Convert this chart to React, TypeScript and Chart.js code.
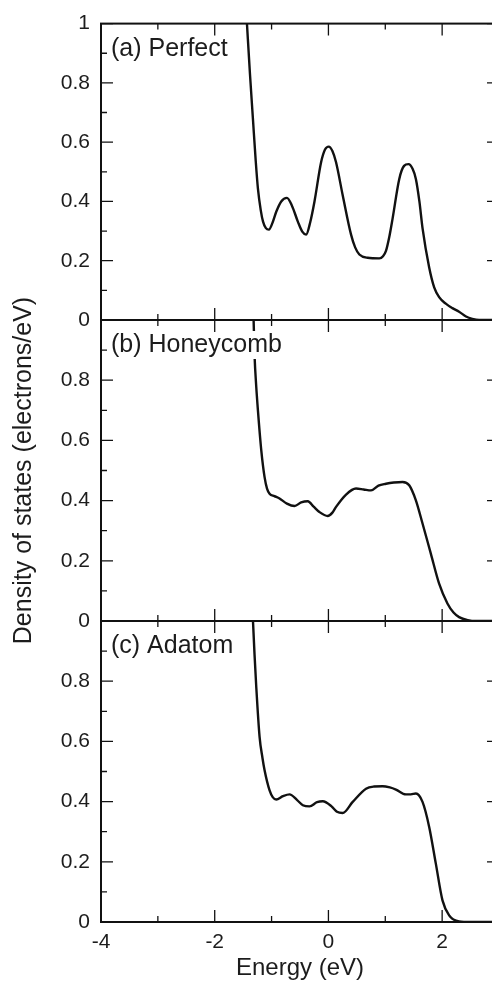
import React, { useEffect, useRef } from 'react';
import { Chart, registerables } from 'chart.js';

Chart.register(...registerables);

// ---------- data ----------
const perfectEnergy = [-1.47, -1.433, -1.38, -1.327, -1.28, -1.24, -1.19, -1.15, -1.1, -1.047, -0.98, -0.918, -0.83, -0.73, -0.64, -0.538, -0.46, -0.392, -0.32, -0.246, -0.129, -0.06, 0.006, 0.07, 0.134, 0.251, 0.398, 0.47, 0.544, 0.69, 0.895, 0.96, 1.012, 1.07, 1.129, 1.246, 1.33, 1.409, 1.48, 1.538, 1.6, 1.655, 1.772, 1.86, 1.947, 2.064, 2.18, 2.298, 2.42, 2.53, 2.65, 3.0];
const perfectDos = [1.12, 1.0, 0.83, 0.676, 0.54, 0.443, 0.37, 0.332, 0.31, 0.305, 0.33, 0.365, 0.4, 0.412, 0.385, 0.332, 0.298, 0.288, 0.33, 0.399, 0.532, 0.575, 0.585, 0.57, 0.532, 0.421, 0.288, 0.245, 0.221, 0.21, 0.208, 0.215, 0.233, 0.28, 0.343, 0.476, 0.52, 0.526, 0.51, 0.476, 0.4, 0.31, 0.177, 0.11, 0.077, 0.055, 0.04, 0.028, 0.012, 0.004, 0.0, 0.0];

const honeycombEnergy = [-1.34, -1.316, -1.298, -1.27, -1.24, -1.181, -1.123, -1.08, -1.035, -0.95, -0.86, -0.73, -0.596, -0.48, -0.363, -0.26, -0.158, -0.012, 0.07, 0.134, 0.31, 0.485, 0.62, 0.749, 0.88, 1.012, 1.15, 1.304, 1.421, 1.538, 1.655, 1.801, 1.947, 2.093, 2.2, 2.298, 2.45, 2.6, 3.0];
const honeycombDos = [1.1, 1.0, 0.877, 0.78, 0.7, 0.567, 0.478, 0.44, 0.423, 0.415, 0.407, 0.39, 0.382, 0.394, 0.398, 0.38, 0.362, 0.349, 0.36, 0.379, 0.42, 0.44, 0.437, 0.434, 0.45, 0.456, 0.46, 0.462, 0.451, 0.401, 0.324, 0.224, 0.124, 0.058, 0.028, 0.013, 0.003, 0.0, 0.0];

const adatomEnergy = [-1.35, -1.327, -1.3, -1.269, -1.211, -1.16, -1.123, -1.035, -0.98, -0.918, -0.8, -0.684, -0.55, -0.45, -0.333, -0.2, -0.099, 0.05, 0.15, 0.251, 0.427, 0.661, 0.8, 0.953, 1.08, 1.187, 1.363, 1.45, 1.538, 1.655, 1.772, 1.889, 2.006, 2.123, 2.298, 2.5, 3.0];
const adatomDos = [1.1, 1.0, 0.89, 0.78, 0.615, 0.545, 0.504, 0.437, 0.415, 0.407, 0.418, 0.424, 0.405, 0.388, 0.384, 0.398, 0.401, 0.385, 0.366, 0.362, 0.399, 0.443, 0.45, 0.451, 0.447, 0.44, 0.424, 0.424, 0.427, 0.399, 0.316, 0.194, 0.072, 0.022, 0.002, 0.0, 0.0];

const panelLabels = ['(a) Perfect', '(b) Honeycomb', '(c) Adatom'];
const xMajorTicks = [-4, -2, 0, 2];
const xMinorTicks = [-3, -1, 1, 3];
const yTicksTop = [0, 0.2, 0.4, 0.6, 0.8, 1];
const yTicksLower = [0, 0.2, 0.4, 0.6, 0.8];
const yMajorTicks = [0, 0.2, 0.4, 0.6, 0.8, 1];
const yMinorTicks = [0.1, 0.3, 0.5, 0.7, 0.9];
const xMin = -4;
const xMax = 3;
const yMin = 0;
const yMax = 1;
const xTitle = 'Energy (eV)';
const yTitle = 'Density of states (electrons/eV)';

// ---------- layout / style ----------
const CW = 520;
const CH = 986;
const FONT = "'Liberation Sans', Arial, Helvetica, sans-serif";
const INK = '#111111';
const TEXT = '#1c1c1c';

const panels = [
  { energy: perfectEnergy, dos: perfectDos, label: panelLabels[0], top: 19, bottom: 320, yTicks: yTicksTop, showX: false, showYTitle: false },
  { energy: honeycombEnergy, dos: honeycombDos, label: panelLabels[1], top: 320, bottom: 621, yTicks: yTicksLower, showX: false, showYTitle: true },
  { energy: adatomEnergy, dos: adatomDos, label: panelLabels[2], top: 621, bottom: 922, yTicks: yTicksLower, showX: true, showYTitle: false },
];

const frameTicksPlugin = {
  id: 'frameTicks',
  afterDatasetsDraw(chart: any, _args: any, opts: any) {
    const { ctx, chartArea } = chart;
    const text: string = opts.label;
    if (!text) return;
    ctx.save();
    ctx.font = `25px ${FONT}`;
    ctx.textBaseline = 'alphabetic';
    ctx.textAlign = 'left';
    const x = chartArea.left + 10;
    const y = chartArea.top + 32;
    const m = ctx.measureText(text);
    ctx.fillStyle = '#ffffff';
    ctx.fillRect(x - 2, y - m.actualBoundingBoxAscent - 2, m.width + 4, m.actualBoundingBoxAscent + m.actualBoundingBoxDescent + 4);
    ctx.fillStyle = TEXT;
    ctx.fillText(text, x, y);
    ctx.restore();
  },
  afterDraw(chart: any) {
    const { ctx, chartArea } = chart;
    const { left, right, top, bottom } = chartArea;
    const xs = chart.scales.x;
    const ys = chart.scales.y;
    ctx.save();
    ctx.strokeStyle = INK;
    ctx.lineWidth = 1.3;
    ctx.beginPath();
    const vx = (vals: number[], len: number) => {
      for (const v of vals) {
        const p = xs.getPixelForValue(v);
        ctx.moveTo(p, bottom);
        ctx.lineTo(p, bottom - len);
        ctx.moveTo(p, top);
        ctx.lineTo(p, top + len);
      }
    };
    const hy = (vals: number[], len: number) => {
      for (const v of vals) {
        const p = ys.getPixelForValue(v);
        ctx.moveTo(left, p);
        ctx.lineTo(left + len, p);
        ctx.moveTo(right, p);
        ctx.lineTo(right - len, p);
      }
    };
    vx(xMajorTicks, 12);
    vx(xMinorTicks, 6);
    hy(yMajorTicks, 12);
    hy(yMinorTicks, 6);
    ctx.stroke();
    ctx.lineWidth = 2;
    ctx.strokeRect(left, top, right - left, bottom - top);
    ctx.restore();
  },
};

function fmt(v: number): string {
  if (Math.abs(v) < 1e-9) return '0';
  if (Math.abs(v - Math.round(v)) < 1e-9) return String(Math.round(v));
  return v.toFixed(1);
}

export default function App() {
  const refs = [useRef<HTMLCanvasElement>(null), useRef<HTMLCanvasElement>(null), useRef<HTMLCanvasElement>(null)];

  useEffect(() => {
    const charts: Chart[] = [];
    panels.forEach((p, i) => {
      const canvas = refs[i].current;
      if (!canvas) return;
      const points = p.energy.map((e, k) => ({ x: e, y: p.dos[k] }));
      const chart = new Chart(canvas, {
        type: 'line',
        data: {
          datasets: [
            {
              data: points,
              borderColor: INK,
              borderWidth: 2.4,
              pointRadius: 0,
              fill: false,
              cubicInterpolationMode: 'monotone',
            },
          ],
        },
        options: {
          responsive: false,
          animation: false,
          events: [],
          layout: {
            padding: { left: 0, right: CW - 499, top: p.top, bottom: p.showX ? 0 : CH - p.bottom },
          },
          plugins: {
            legend: { display: false },
            tooltip: { enabled: false },
            frameTicks: { label: p.label },
          } as any,
          scales: {
            x: {
              type: 'linear',
              min: xMin,
              max: xMax,
              display: p.showX,
              grid: { display: false, drawTicks: false },
              border: { display: false },
              afterBuildTicks: (scale: any) => {
                scale.ticks = xMajorTicks.map((v) => ({ value: v }));
              },
              afterFit: (scale: any) => {
                scale.height = p.showX ? CH - p.bottom : 0;
              },
              ticks: {
                color: TEXT,
                font: { family: FONT, size: 21 },
                padding: 8,
                maxRotation: 0,
                callback: (v: any) => fmt(Number(v)),
              },
              title: {
                display: p.showX,
                text: xTitle,
                color: TEXT,
                font: { family: FONT, size: 24 },
                padding: { top: 0, bottom: 3 },
              },
            },
            y: {
              type: 'linear',
              min: yMin,
              max: yMax,
              grid: { display: false, drawTicks: false },
              border: { display: false },
              afterBuildTicks: (scale: any) => {
                scale.ticks = p.yTicks.map((v) => ({ value: v }));
              },
              afterFit: (scale: any) => {
                scale.width = 101;
              },
              ticks: {
                color: TEXT,
                font: { family: FONT, size: 21 },
                padding: 11,
                callback: (v: any) => fmt(Number(v)),
              },
              title: {
                display: p.showYTitle,
                text: yTitle,
                color: TEXT,
                font: { family: FONT, size: 25 },
                padding: { top: 9, bottom: 0 },
              },
            },
          },
        },
        plugins: [frameTicksPlugin],
      });
      charts.push(chart);
    });
    return () => {
      charts.forEach((c) => c.destroy());
    };
  }, []);

  return (
    <div
      style={{
        position: 'fixed',
        left: 0,
        top: 0,
        width: 492,
        height: 986,
        overflow: 'hidden',
        background: '#ffffff',
      }}
    >
      {refs.map((r, i) => (
        <canvas
          key={i}
          ref={r}
          width={CW}
          height={CH}
          style={{ position: 'absolute', left: 0, top: 0, width: CW, height: CH }}
        />
      ))}
    </div>
  );
}
